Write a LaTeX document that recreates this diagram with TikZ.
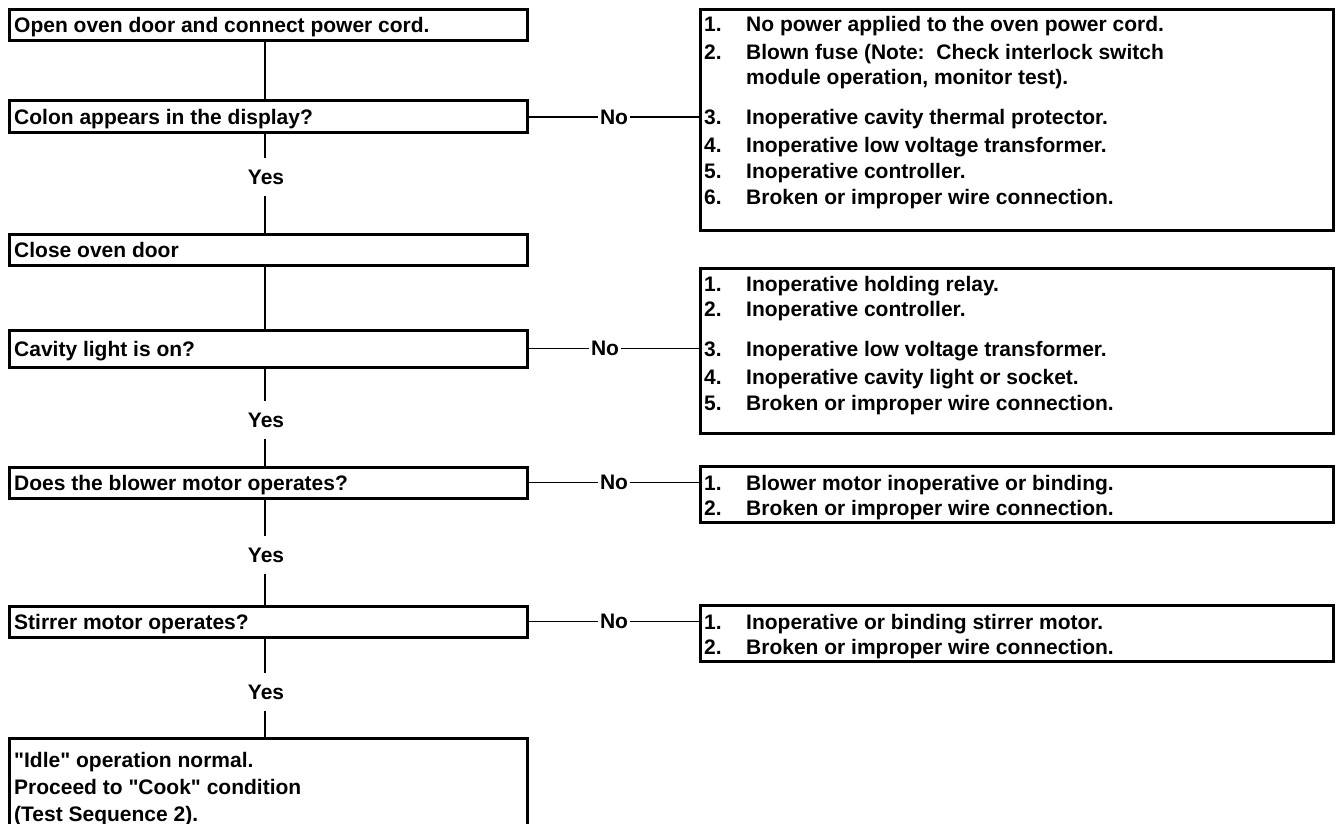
\documentclass[tikz,border=0pt]{standalone}
\usepackage{fontspec}
\setmainfont{Liberation Sans}[Ligatures=TeXOff]
\begin{document}
\begin{tikzpicture}[x=1pt,y=-1pt,
  box/.style={draw, line width=3pt, inner sep=0pt, rectangle},
  lbl/.style={font=\bfseries\fontsize{21}{24}\selectfont, inner sep=0pt},
  yeslbl/.style={lbl, inner ysep=11pt},
  nolbl/.style={lbl, inner xsep=1.5pt},
  conn/.style={line width=1.3pt}]
\useasboundingbox (0,0) rectangle (1335,824);
\fill[white] (0,0) rectangle (1335,824);
\clip (0,0) rectangle (1335,824);
% left boxes
\node[box, minimum width=518pt, minimum height=31pt] (b1) at (268,25.5) {};
\node[box, minimum width=518pt, minimum height=32pt] (b2) at (268,117) {};
\node[box, minimum width=518pt, minimum height=31pt] (b3) at (268,249.5) {};
\node[box, minimum width=518pt, minimum height=37pt] (b4) at (268,348.5) {};
\node[box, minimum width=518pt, minimum height=31pt] (b5) at (268,482.5) {};
\node[box, minimum width=518pt, minimum height=31pt] (b6) at (268,621.5) {};
\node[box, minimum width=518pt, minimum height=120pt] (b7) at (268,798) {};
\node[lbl, anchor=base west] (b1t) at (14,25.5+7.5) {Open oven door and connect power cord.};
\node[lbl, anchor=base west] (b2t) at (14,117+7.5) {Colon appears in the display?};
\node[lbl, anchor=base west] (b3t) at (14,249.5+7.5) {Close oven door};
\node[lbl, anchor=base west] (b4t) at (14,348.5+7.5) {Cavity light is on?};
\node[lbl, anchor=base west] (b5t) at (14,482.5+7.5) {Does the blower motor operates?};
\node[lbl, anchor=base west] (b6t) at (14,621.5+7.5) {Stirrer motor operates?};
\node[lbl, anchor=base west] (b7a) at (14,760+7.5) {"Idle" operation normal.};
\node[lbl, anchor=base west] (b7b) at (14,787+7.5) {Proceed to "Cook" condition};
\node[lbl, anchor=base west] (b7c) at (14,814+7.5) {(Test Sequence 2).};
% yes labels
\node[yeslbl] (y1) at (266,177) {Yes};
\node[yeslbl] (y2) at (266,420) {Yes};
\node[yeslbl] (y3) at (266,555) {Yes};
\node[yeslbl] (y4) at (266,692) {Yes};
\coordinate (vx) at (265,0);
\draw[conn] (b1.south -| vx) -- (b2.north -| vx);
\draw[conn] (b2.south -| vx) -- (y1.north -| vx);
\draw[conn] (y1.south -| vx) -- (b3.north -| vx);
\draw[conn] (b3.south -| vx) -- (b4.north -| vx);
\draw[conn] (b4.south -| vx) -- (y2.north -| vx);
\draw[conn] (y2.south -| vx) -- (b5.north -| vx);
\draw[conn] (b5.south -| vx) -- (y3.north -| vx);
\draw[conn] (y3.south -| vx) -- (b6.north -| vx);
\draw[conn] (b6.south -| vx) -- (y4.north -| vx);
\draw[conn] (y4.south -| vx) -- (b7.north -| vx);
% right boxes
\node[box, minimum width=633pt, minimum height=220pt] (r1) at (1016.5,120) {};
\node[box, minimum width=633pt, minimum height=165pt] (r2) at (1016.5,350.5) {};
\node[box, minimum width=633pt, minimum height=56pt] (r3) at (1016.5,494) {};
\node[box, minimum width=633pt, minimum height=56pt] (r4) at (1016.5,633) {};
% no labels and connectors
\node[nolbl] (n1) at (614,117) {No};
\node[nolbl] (n2) at (605,348.5) {No};
\node[nolbl] (n3) at (614,482.5) {No};
\node[nolbl] (n4) at (614,621.5) {No};
\draw[conn] (b2.east) -- (n1.west); \draw[conn] (n1.east) -- (r1.west |- n1);
\draw[conn] (b4.east) -- (n2.west); \draw[conn] (n2.east) -- (r2.west |- n2);
\draw[conn] (b5.east) -- (n3.west); \draw[conn] (n3.east) -- (r3.west |- n3);
\draw[conn] (b6.east) -- (n4.west); \draw[conn] (n4.east) -- (r4.west |- n4);
% right box items
\newcommand\ritem[4]{%
  \node[lbl, anchor=base west] (#1n) at (704,#2+7.5) {#3};
  \node[lbl, anchor=base west] (#1t) at (746,#2+7.5) {#4};}
\ritem{aA}{24}{1.}{No power applied to the oven power cord.}
\ritem{aB}{52}{2.}{Blown fuse (Note:\ \ Check interlock switch}
\ritem{aC}{77}{}{module operation, monitor test).}
\ritem{aD}{117}{3.}{Inoperative cavity thermal protector.}
\ritem{aE}{145}{4.}{Inoperative low voltage transformer.}
\ritem{aF}{171}{5.}{Inoperative controller.}
\ritem{aG}{197}{6.}{Broken or improper wire connection.}
\ritem{bA}{284}{1.}{Inoperative holding relay.}
\ritem{bB}{309}{2.}{Inoperative controller.}
\ritem{bC}{348.5}{3.}{Inoperative low voltage transformer.}
\ritem{bD}{377}{4.}{Inoperative cavity light or socket.}
\ritem{bE}{403}{5.}{Broken or improper wire connection.}
\ritem{cA}{482.5}{1.}{Blower motor inoperative or binding.}
\ritem{cB}{508}{2.}{Broken or improper wire connection.}
\ritem{dA}{621.5}{1.}{Inoperative or binding stirrer motor.}
\ritem{dB}{647}{2.}{Broken or improper wire connection.}
\end{tikzpicture}
\end{document}
